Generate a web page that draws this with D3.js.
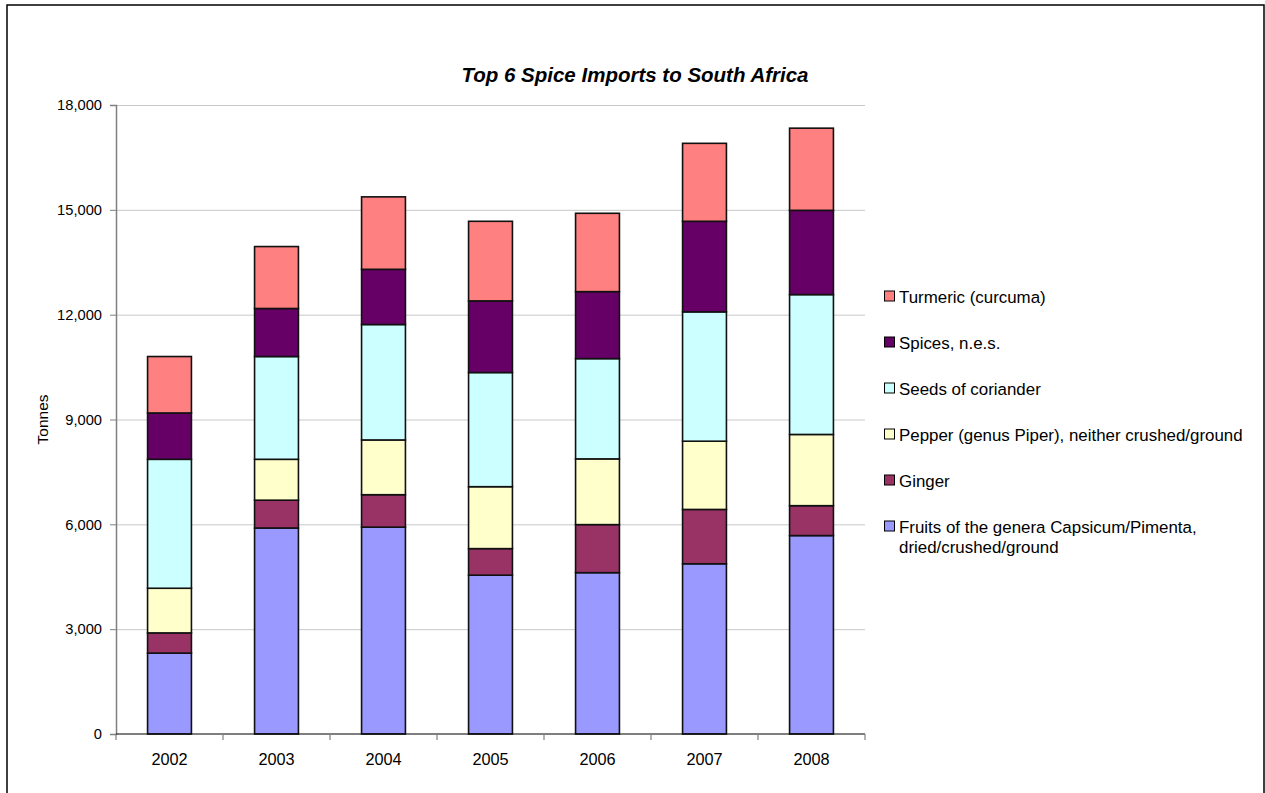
<!DOCTYPE html>
<html>
<head>
<meta charset="utf-8">
<script src="https://cdn.jsdelivr.net/npm/d3@7"></script>
<style>
  html, body { margin: 0; padding: 0; background: #fff; }
  svg { display: block; font-family: "Liberation Sans", Arial, sans-serif; }
</style>
</head>
<body>
<svg id="chart" width="1265" height="793"></svg>
<script>
const years = ["2002", "2003", "2004", "2005", "2006", "2007", "2008"];
const seriesNames = [
  "Fruits of the genera Capsicum/Pimenta, dried/crushed/ground",
  "Ginger",
  "Pepper (genus Piper), neither crushed/ground",
  "Seeds of coriander",
  "Spices, n.e.s.",
  "Turmeric (curcuma)"
];
const capsicum  = [2315, 5895, 5920, 4545, 4617, 4871, 5678];
const ginger    = [578, 796, 928, 760, 1375, 1555, 856];
const pepper    = [1278, 1170, 1567, 1772, 1881, 1953, 2038];
const coriander = [3690, 2941, 3303, 3267, 2869, 3701, 4002];
const spices    = [1326, 1375, 1580, 2050, 1917, 2592, 2412];
const turmeric  = [1615, 1772, 2073, 2278, 2242, 2231, 2351];
const colors = ["#9999FF", "#993366", "#FFFFCC", "#CCFFFF", "#660066", "#FF8080"];
const yTicks = [0, 3000, 6000, 9000, 12000, 15000, 18000];

(function () {
const FONT = "'Liberation Sans', Arial, sans-serif";
const seriesValues = [capsicum, ginger, pepper, coriander, spices, turmeric];
const table = years.map((yr, i) => {
  const row = { year: yr };
  seriesNames.forEach((n, j) => row[n] = seriesValues[j][i]);
  return row;
});
const stacked = d3.stack().keys(seriesNames)(table);

const svg = d3.select("#chart");
// outer frame
svg.append("rect").attr("x", 7).attr("y", 5).attr("width", 1257).attr("height", 800)
  .attr("fill", "#fff").attr("stroke", "#000").attr("stroke-width", 1.5);

const pLeft = 116, pRight = 865, pTop = 105, pBottom = 734;
const x = d3.scaleBand().domain(years).range([pLeft, pRight]).paddingInner(0.59).paddingOuter(0.295);
const y = d3.scaleLinear().domain([0, 18000]).range([pBottom, pTop]);

// gridlines
svg.append("g").selectAll("line").data(yTicks.filter(t => t > 0)).join("line")
  .attr("x1", pLeft).attr("x2", pRight)
  .attr("y1", d => y(d) + 0.5).attr("y2", d => y(d) + 0.5)
  .attr("stroke", "#c8c8c8").attr("stroke-width", 1);

// bars
svg.append("g").selectAll("g").data(stacked).join("g")
  .attr("fill", (d, i) => colors[i])
  .selectAll("rect").data(d => d).join("rect")
  .attr("x", d => x(d.data.year))
  .attr("width", x.bandwidth())
  .attr("y", d => y(d[1]))
  .attr("height", d => y(d[0]) - y(d[1]))
  .attr("stroke", "#111").attr("stroke-width", 1.6);

// y axis
const yAxis = svg.append("g").attr("transform", `translate(${pLeft},0)`)
  .call(d3.axisLeft(y).tickValues(yTicks).tickSize(6).tickPadding(8).tickFormat(d3.format(",")));
yAxis.select(".domain").attr("stroke", "#808080").attr("stroke-width", 1.5);
yAxis.selectAll(".tick line").attr("stroke", "#808080");
yAxis.selectAll("text").attr("font-size", 14.7).attr("fill", "#000").attr("font-family", FONT);

// x axis
const xAxis = svg.append("g").attr("transform", `translate(0,${pBottom})`)
  .call(d3.axisBottom(x).tickSize(0).tickPadding(19));
xAxis.select(".domain").remove();
xAxis.selectAll("text").attr("font-size", 16.3).attr("fill", "#000").attr("font-family", FONT);
svg.append("line").attr("x1", pLeft).attr("x2", pRight).attr("y1", pBottom).attr("y2", pBottom)
  .attr("stroke", "#000").attr("stroke-width", 1.2);
const edges = [pLeft].concat(years.map(yr => x(yr) + x.bandwidth() + (x.step() - x.bandwidth()) / 2));
svg.append("g").selectAll("line").data(edges).join("line")
  .attr("x1", d => d).attr("x2", d => d).attr("y1", pBottom).attr("y2", pBottom + 6)
  .attr("stroke", "#808080").attr("stroke-width", 1.2);

// y title
svg.append("text").attr("transform", `translate(48,${(pTop + pBottom) / 2}) rotate(-90)`)
  .attr("text-anchor", "middle").attr("font-size", 15.5).text("Tonnes");

// title
svg.append("text").attr("x", 635).attr("y", 82).attr("text-anchor", "middle")
  .attr("font-size", 20.5).attr("font-weight", "bold").attr("font-style", "italic")
  .text("Top 6 Spice Imports to South Africa");

// legend (reverse order)
const legendItems = seriesNames.map((n, i) => ({ name: n, color: colors[i] })).reverse();
const lg = svg.append("g");
legendItems.forEach((d, i) => {
  const sy = 291 + i * 46;
  lg.append("rect").attr("x", 884.5).attr("y", sy).attr("width", 10).attr("height", 10)
    .attr("fill", d.color).attr("stroke", "#000").attr("stroke-width", 1);
  const lines = d.name.startsWith("Fruits")
    ? ["Fruits of the genera Capsicum/Pimenta,", "dried/crushed/ground"]
    : [d.name];
  lines.forEach((t, k) => {
    lg.append("text").attr("x", 899).attr("y", sy + 11.5 + k * 20.5).attr("font-size", 16.9).text(t);
  });
});
})();
</script>
</body>
</html>
